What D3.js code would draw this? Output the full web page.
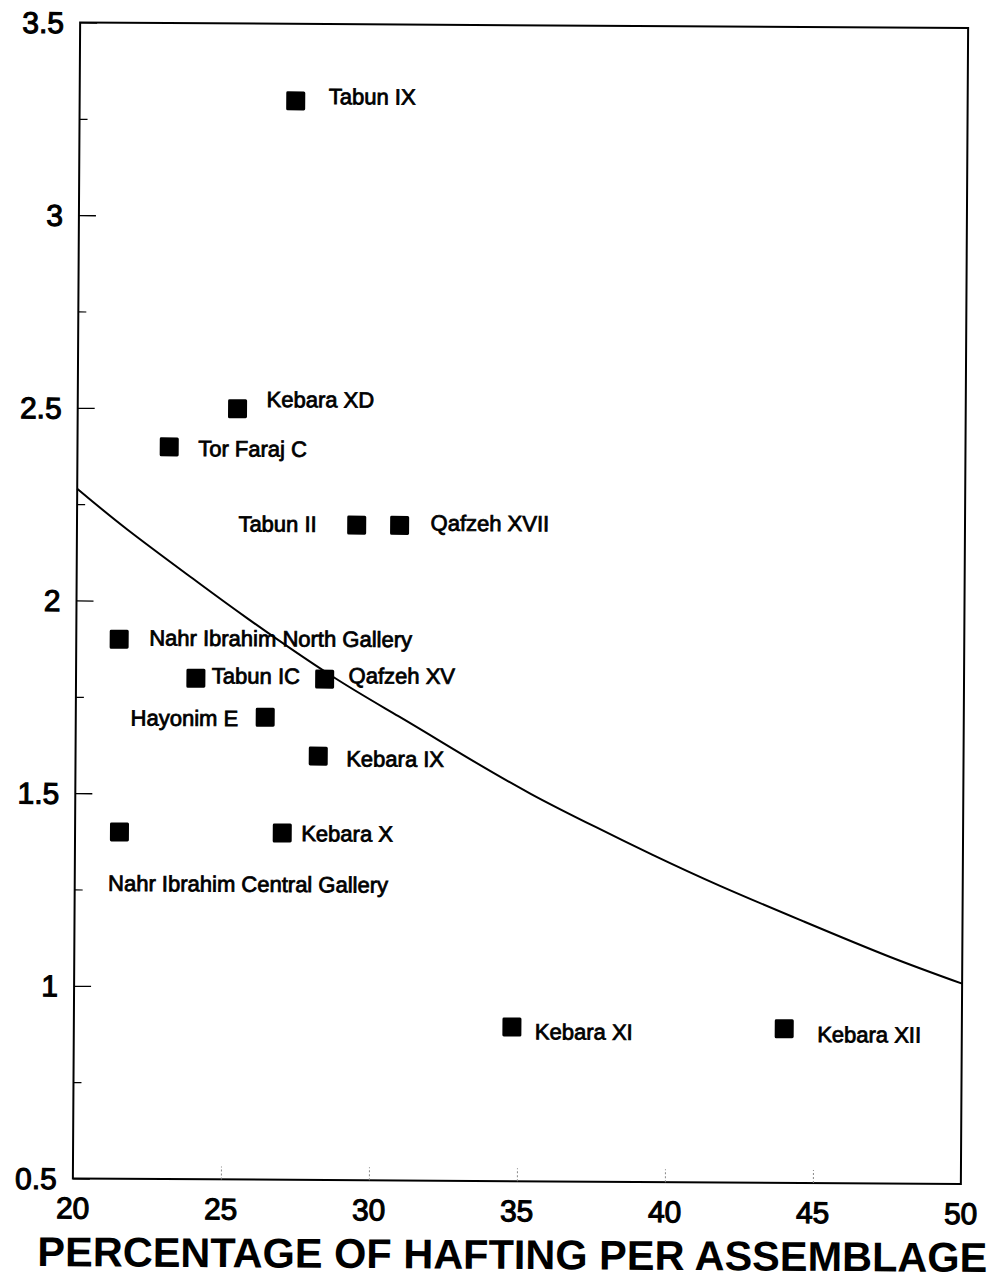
<!DOCTYPE html>
<html>
<head>
<meta charset="utf-8">
<script src="https://cdn.jsdelivr.net/npm/d3@7"></script>
<style>
  html, body { margin: 0; padding: 0; background: #fff; }
  svg { display: block; }
  text { font-family: "Liberation Sans", Arial, Helvetica, sans-serif; fill: #000; }
</style>
</head>
<body>
<svg id="chart" width="1003" height="1283"></svg>
<script>
// ---- data ----
const siteNames = [
  "Tabun IX", "Kebara XD", "Tor Faraj C", "Tabun II", "Qafzeh XVII",
  "Nahr Ibrahim North Gallery", "Tabun IC", "Qafzeh XV", "Hayonim E",
  "Kebara IX", "Nahr Ibrahim Central Gallery", "Kebara X", "Kebara XI", "Kebara XII"
];
const haftingPct = [27.3, 25.4, 23.1, 29.45, 30.9, 21.45, 24.05, 28.4, 26.4, 28.2, 21.5, 27.0, 34.8, 44.0];
const yValues    = [3.3, 2.5, 2.4, 2.2, 2.2, 1.9, 1.8, 1.8, 1.7, 1.6, 1.4, 1.4, 0.9, 0.9];

// fitted curve
const curveX = [20, 21.7, 23.9, 25.8, 28.6, 30.9, 33.1, 35.4, 37.6, 39.5, 41.8, 44.6, 47.5, 50];
const curveY = [2.29, 2.185, 2.06, 1.955, 1.81, 1.705, 1.605, 1.505, 1.42, 1.35, 1.27, 1.18, 1.09, 1.02];

const xTickValues = [20, 25, 30, 35, 40, 45, 50];
const yTickValues = [0.5, 1, 1.5, 2, 2.5, 3, 3.5];
const yMinorTicks = [0.75, 1.25, 1.75, 2.25, 2.75, 3.25];
const xTitle = "PERCENTAGE OF HAFTING PER ASSEMBLAGE";

// ---- label layout (pixel offsets from the marker centre) ----
const labelLayout = [
  {anchor: "start", dx: 33, dy: 3},
  {anchor: "start", dx: 29, dy: -2},
  {anchor: "start", dx: 29, dy: 9},
  {anchor: "end",   dx: -40, dy: 7},
  {anchor: "start", dx: 31, dy: 5},
  {anchor: "start", dx: 30, dy: 6},
  {anchor: "start", dx: 16, dy: 5},
  {anchor: "start", dx: 24, dy: 4},
  {anchor: "end",   dx: -27, dy: 9},
  {anchor: "start", dx: 28, dy: 10},
  {anchor: "start", dx: -11, dy: 59},
  {anchor: "start", dx: 19, dy: 8},
  {anchor: "start", dx: 23, dy: 12},
  {anchor: "start", dx: 33, dy: 13}
];

// ---- layout ----
const L = 76.5, R = 964.5, T = 25.25, B = 1181.25;
const svg = d3.select("#chart");
const g = svg.append("g")
  .attr("transform", `rotate(0.36, ${(L + R) / 2}, ${(T + B) / 2})`);

const x = d3.scaleLinear().domain([20, 50]).range([L, R]);
const y = d3.scaleLinear().domain([0.5, 3.5]).range([B, T]);

// frame
g.append("rect")
  .attr("x", L).attr("y", T)
  .attr("width", R - L).attr("height", B - T)
  .attr("fill", "none").attr("stroke", "#000").attr("stroke-width", 2);

// y axis (ticks inward)
const yAxis = d3.axisRight(y).tickValues(yTickValues).tickSize(17).tickFormat("");
const yAx = g.append("g").attr("transform", `translate(${L},0)`).call(yAxis);
yAx.select(".domain").remove();
yAx.selectAll("line").attr("stroke", "#000").attr("stroke-width", 1.3);

const yMinor = d3.axisRight(y).tickValues(yMinorTicks).tickSize(8).tickFormat("");
const yMi = g.append("g").attr("transform", `translate(${L},0)`).call(yMinor);
yMi.select(".domain").remove();
yMi.selectAll("line").attr("stroke", "#000").attr("stroke-width", 1.2);

// y tick labels
g.append("g").selectAll("text")
  .data(yTickValues).join("text")
  .attr("x", L - 16)
  .attr("y", d => y(d))
  .attr("dy", "0.36em")
  .attr("text-anchor", "end")
  .attr("font-size", 30)
  .attr("stroke", "#000").attr("stroke-width", 1.1)
  .text(d => d);

// x axis ticks (faint, pointing up)
const xAxis = d3.axisTop(x).tickValues(xTickValues.slice(1, -1)).tickSize(13).tickFormat("");
const xAx = g.append("g").attr("transform", `translate(0,${B})`).call(xAxis);
xAx.select(".domain").remove();
xAx.selectAll("line").attr("stroke", "#888").attr("stroke-width", 1).attr("stroke-dasharray", "2,2");

// x tick labels
g.append("g").selectAll("text")
  .data(xTickValues).join("text")
  .attr("x", d => x(d))
  .attr("y", B + 40)
  .attr("text-anchor", "middle")
  .attr("font-size", 30)
  .attr("stroke", "#000").attr("stroke-width", 1.1)
  .text(d => d);

// x title
g.append("text")
  .attr("x", (L + R) / 2 - 4)
  .attr("y", 1269)
  .attr("text-anchor", "middle")
  .attr("font-size", 41.5)
  .attr("font-weight", "bold")
  .text(xTitle);

// curve
const curvePts = curveX.map((v, i) => [v, curveY[i]]);
g.append("path")
  .datum(curvePts)
  .attr("fill", "none")
  .attr("stroke", "#000")
  .attr("stroke-width", 2)
  .attr("d", d3.line().x(d => x(d[0])).y(d => y(d[1])).curve(d3.curveNatural));

// points
const pts = siteNames.map((n, i) => ({name: n, hx: haftingPct[i], yv: yValues[i], lay: labelLayout[i]}));
const S = 19;
g.append("g").selectAll("rect")
  .data(pts).join("rect")
  .attr("x", d => x(d.hx) - S / 2)
  .attr("y", d => y(d.yv) - S / 2)
  .attr("width", S).attr("height", S)
  .attr("rx", 1.5)
  .attr("fill", "#000");

g.append("g").selectAll("text")
  .data(pts).join("text")
  .attr("x", d => x(d.hx) + d.lay.dx)
  .attr("y", d => y(d.yv) + d.lay.dy)
  .attr("text-anchor", d => d.lay.anchor)
  .attr("font-size", 22)
  .attr("stroke", "#000").attr("stroke-width", 0.8)
  .text(d => d.name);
</script>
</body>
</html>
